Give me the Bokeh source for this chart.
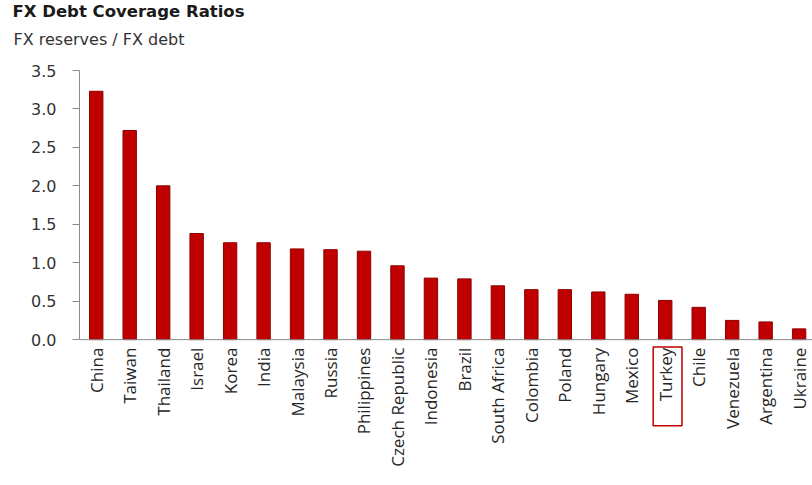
import math
from bokeh.plotting import figure
from bokeh.models import (Range1d, FixedTicker, PrintfTickFormatter, BoxAnnotation,
                          ColumnDataSource, Title, Span)
from bokeh.core.properties import value
from bokeh.embed import file_html
from bokeh.resources import INLINE

# ---- data ----
countries = ["China", "Taiwan", "Thailand", "Israel", "Korea", "India", "Malaysia", "Russia",
             "Philippines", "Czech Republic", "Indonesia", "Brazil", "South Africa", "Colombia",
             "Poland", "Hungary", "Mexico", "Turkey", "Chile", "Venezuela", "Argentina", "Ukraine"]
ratios = [3.23, 2.72, 2.00, 1.38, 1.26, 1.26, 1.18, 1.17,
          1.15, 0.96, 0.80, 0.79, 0.70, 0.65,
          0.65, 0.62, 0.59, 0.51, 0.42, 0.25, 0.23, 0.14]
y_ticks = [0.0, 0.5, 1.0, 1.5, 2.0, 2.5, 3.0, 3.5]
highlight = "Turkey"
title_text = "FX Debt Coverage Ratios"
subtitle_text = "FX reserves / FX debt"

xs = [i + 0.5 for i in range(len(countries))]
bars = ColumnDataSource(dict(x=xs, top=ratios))
labels = ColumnDataSource(dict(x=xs, y=[0.0] * len(xs), text=countries))

p = figure(width=812, height=485, output_backend="svg", toolbar_location=None,
           x_range=Range1d(0, 21.9), y_range=Range1d(-1.897, 3.5),
           x_axis_location=None,
           min_border_left=79, min_border_right=0, min_border_top=70, min_border_bottom=0,
           background_fill_color="white", border_fill_color="white")
p.outline_line_color = None
p.grid.visible = False

# titles
p.title.text = title_text
p.title.text_font = "DejaVu Sans"
p.title.text_font_style = "bold"
p.title.text_font_size = "16.5px"
p.title.text_color = "#1a1a1a"
p.title.align = "left"
p.title.offset = -67
p.title.standoff = -30
p.add_layout(Title(text=subtitle_text, text_font="DejaVu Sans", text_font_style="normal",
                   text_font_size="16px", text_color="#333333", align="left", offset=-66,
                   standoff=44), "above")

p.vbar(x="x", top="top", width=0.4, bottom=0, source=bars,
       fill_color="#C00000", line_color="#8E0000", line_width=1)

# x axis line and category labels
p.add_layout(Span(location=0, dimension="width", line_color="#8a8a8a", line_width=1))
p.text(x="x", y="y", text="text", source=labels, angle=math.pi / 2,
       text_align="right", text_baseline="middle", y_offset=8,
       text_font=value("Open Sans"), text_font_size="17px", text_color="#262626")

# y axis
ya = p.yaxis[0]
ya.bounds = (0, 3.5)
ya.ticker = FixedTicker(ticks=y_ticks)
ya.formatter = PrintfTickFormatter(format="%.1f")
ya.major_tick_out = 7
ya.major_tick_in = 0
ya.minor_tick_out = 0
ya.minor_tick_in = 0
ya.axis_line_color = "#8a8a8a"
ya.major_tick_line_color = "#8a8a8a"
ya.major_label_text_font = "DejaVu Sans"
ya.major_label_text_font_size = "16px"
ya.major_label_text_color = "#333333"
ya.major_label_standoff = 16

# highlight box around the Turkey label
hx = xs[countries.index(highlight)]
p.add_layout(BoxAnnotation(left=hx - 0.36, right=hx + 0.5, bottom=-1.12, top=-0.096,
                           fill_alpha=0, line_color="#C00000", line_alpha=1.0, line_width=1.5))

open("out.html", "w").write(file_html(p, INLINE))
